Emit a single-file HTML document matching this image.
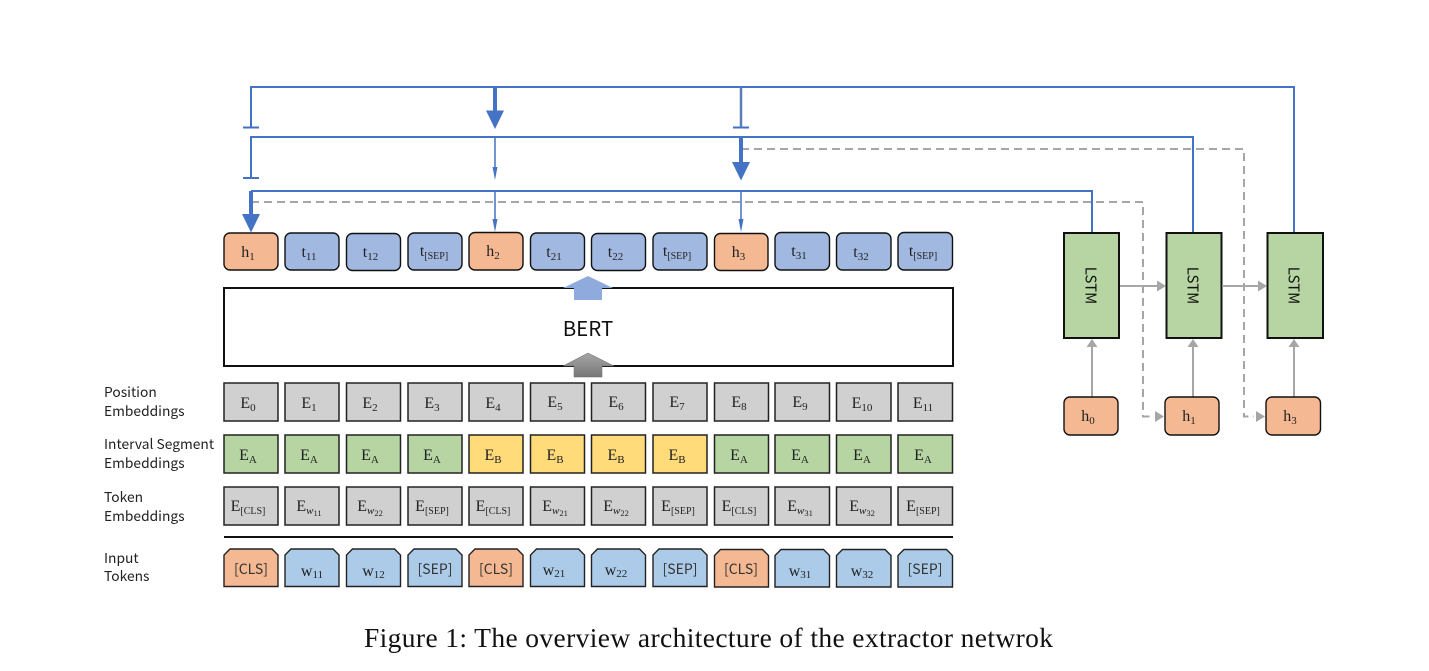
<!DOCTYPE html>
<html><head><meta charset="utf-8"><style>
html,body{margin:0;padding:0;background:#fff}
svg{display:block}
.m{font-family:"Liberation Serif",serif;font-size:16px;fill:#222;text-anchor:middle}
.s{font-size:11px}
.k{font-size:10px}
.l{font-family:"Noto Sans CJK KR","Liberation Sans",sans-serif;font-size:13.8px;fill:#222}
.c{font-family:"Noto Sans CJK KR","Liberation Sans",sans-serif;font-size:14px;fill:#333;text-anchor:middle}
.h rect{fill:#f4b993;stroke:#111;stroke-width:1.4}
.t rect{fill:#a1b8e0;stroke:#111;stroke-width:1.4}
.e rect{fill:#d0d0d0;stroke:#222;stroke-width:1.5}
.g rect{fill:#b7d5a3;stroke:#222;stroke-width:1.5}
.y rect{fill:#ffdb79;stroke:#222;stroke-width:1.5}
.o polygon{fill:#f4b993;stroke:#222;stroke-width:1.4}
.w polygon{fill:#abcbe9;stroke:#222;stroke-width:1.4}
.b{stroke:#4472c4;fill:none;stroke-width:2}
.bf{fill:#4472c4}
.d{stroke:#a6a6a6;fill:none;stroke-width:2;stroke-dasharray:8 5}
.a{stroke:#a6a6a6;fill:none;stroke-width:2}
.af{fill:#a6a6a6}
</style></head><body>
<svg width="1429" height="671" viewBox="0 0 1429 671" xmlns="http://www.w3.org/2000/svg">
<defs>
<linearGradient id="gr" x1="0" y1="0" x2="0" y2="1"><stop offset="0" stop-color="#a6a6a6"/><stop offset="1" stop-color="#777"/></linearGradient>
</defs>

<!-- dashed connectors -->
<path class="d" d="M251 202H1143V416.5H1153"/>
<path class="d" d="M741 149H1244V416.5H1254"/>

<!-- blue connectors -->
<path class="b" d="M251 127V87H1294V233"/>
<path class="b" d="M243 127.5H259M733 127.5H749M243 178H259"/>
<path class="b" style="stroke:#5b7db8;stroke-width:2.500" d="M741 87V127"/>
<path class="b" d="M251 178V137H1193V233"/>
<path class="b" d="M251 191H1092V233"/>
<path class="b" style="stroke-width:4" d="M495 87V112M741 137V164M251 191V216"/>
<polygon class="bf" points="486,110.500 504,110.500 495,129"/>
<polygon class="bf" points="732,162 750,162 741,180.500"/>
<polygon class="bf" points="242,214 260,214 251,232.500"/>
<path class="b" style="stroke-width:1.500" d="M495 137V170M495 191V224M741 191V224"/>
<polygon class="bf" points="492.500,167 497.500,167 495,180"/>
<polygon class="bf" points="492.500,219 497.500,219 495,232"/>
<polygon class="bf" points="738.500,219 743.500,219 741,232"/>

<!-- top tokens -->
<g class="h"><rect x="224" y="233" width="54" height="37" rx="6"/><rect x="469" y="232.500" width="54" height="37.500" rx="6"/><rect x="714.500" y="233.500" width="53.500" height="37" rx="6"/></g>
<g class="t">
<rect x="285" y="233" width="54" height="37" rx="6"/><rect x="346.500" y="233.500" width="54" height="37" rx="6"/><rect x="408" y="233" width="54" height="37" rx="6"/>
<rect x="530.500" y="233" width="54" height="37" rx="6"/><rect x="591.500" y="233.500" width="54" height="37" rx="6"/><rect x="653" y="233" width="54" height="37" rx="6"/>
<rect x="775" y="232.500" width="54.500" height="37.500" rx="6"/><rect x="836.500" y="233" width="54.500" height="37" rx="6"/><rect x="898" y="232.500" width="54.500" height="37.500" rx="6"/>
</g>
<text class="m" x="248" y="257">h<tspan class="s" dy="3">1</tspan></text>
<text class="m" x="309" y="257">t<tspan class="s" dy="3">11</tspan></text>
<text class="m" x="370.500" y="257">t<tspan class="s" dy="3">12</tspan></text>
<text class="m" x="434" y="256">t<tspan class="k" dy="3">[SEP]</tspan></text>
<text class="m" x="493" y="256">h<tspan class="s" dy="3">2</tspan></text>
<text class="m" x="554" y="257">t<tspan class="s" dy="3">21</tspan></text>
<text class="m" x="615.500" y="257">t<tspan class="s" dy="3">22</tspan></text>
<text class="m" x="677" y="256">t<tspan class="k" dy="3">[SEP]</tspan></text>
<text class="m" x="738.500" y="257">h<tspan class="s" dy="3">3</tspan></text>
<text class="m" x="799" y="256">t<tspan class="s" dy="3">31</tspan></text>
<text class="m" x="861" y="257">t<tspan class="s" dy="3">32</tspan></text>
<text class="m" x="923" y="256">t<tspan class="k" dy="3">[SEP]</tspan></text>

<!-- BERT -->
<rect x="224" y="288" width="729" height="78" fill="#fff" stroke="#111" stroke-width="2"/>
<polygon points="588,276 613,288 602,288 602,300 574,300 574,288 563,288" fill="#8faadc"/>
<polygon points="588,353 614,366 602,366 602,377 574,377 574,366 563,366" fill="url(#gr)" stroke="#666" stroke-width=".5"/>
<text x="588" y="336" text-anchor="middle" style="font-family:'Noto Sans CJK KR','Liberation Sans',sans-serif;font-size:20.500px;fill:#111">BERT</text>

<!-- side labels -->
<text class="l" x="104" y="397">Position</text>
<text class="l" x="104" y="416">Embeddings</text>
<text class="l" x="104" y="449">Interval Segment</text>
<text class="l" x="104" y="468">Embeddings</text>
<text class="l" x="104" y="502">Token</text>
<text class="l" x="104" y="521">Embeddings</text>
<text class="l" x="104" y="563">Input</text>
<text class="l" x="104" y="581">Tokens</text>

<!-- position embeddings -->
<g class="e">
<rect x="224" y="383" width="54" height="38"/><rect x="285" y="383" width="54" height="38"/><rect x="346.500" y="383" width="54" height="38"/><rect x="408" y="383" width="54" height="38"/>
<rect x="469" y="383" width="54" height="38"/><rect x="530.500" y="383" width="54" height="38"/><rect x="591.500" y="383" width="54" height="38"/><rect x="653" y="383" width="54" height="38"/>
<rect x="714.500" y="383" width="54" height="38"/><rect x="775" y="383" width="54.500" height="38"/><rect x="836.500" y="383" width="54.500" height="38"/><rect x="898" y="383" width="54.500" height="38"/>
</g>
<text class="m" x="248" y="408">E<tspan class="s" dy="3">0</tspan></text>
<text class="m" x="309" y="408">E<tspan class="s" dy="3">1</tspan></text>
<text class="m" x="370" y="408">E<tspan class="s" dy="3">2</tspan></text>
<text class="m" x="432" y="408">E<tspan class="s" dy="3">3</tspan></text>
<text class="m" x="493" y="408">E<tspan class="s" dy="3">4</tspan></text>
<text class="m" x="555" y="407">E<tspan class="s" dy="3">5</tspan></text>
<text class="m" x="616" y="407">E<tspan class="s" dy="3">6</tspan></text>
<text class="m" x="677" y="407">E<tspan class="s" dy="3">7</tspan></text>
<text class="m" x="739" y="407">E<tspan class="s" dy="3">8</tspan></text>
<text class="m" x="800" y="407">E<tspan class="s" dy="3">9</tspan></text>
<text class="m" x="862" y="408">E<tspan class="s" dy="3">10</tspan></text>
<text class="m" x="923" y="408">E<tspan class="s" dy="3">11</tspan></text>

<!-- segment embeddings -->
<g class="g">
<rect x="224" y="435" width="54" height="38"/><rect x="285" y="435" width="54" height="38"/><rect x="346.500" y="435" width="54" height="38"/><rect x="408" y="435" width="54" height="38"/>
<rect x="714.500" y="435" width="54" height="38"/><rect x="775" y="435" width="54.500" height="38"/><rect x="836.500" y="435" width="54.500" height="38"/><rect x="898" y="435" width="54.500" height="38"/>
</g>
<g class="y">
<rect x="469" y="435" width="54" height="38"/><rect x="530.500" y="435" width="54" height="38"/><rect x="591.500" y="435" width="54" height="38"/><rect x="653" y="435" width="54" height="38"/>
</g>
<text class="m" x="248" y="460">E<tspan class="s" dy="3">A</tspan></text>
<text class="m" x="309" y="460">E<tspan class="s" dy="3">A</tspan></text>
<text class="m" x="370" y="460">E<tspan class="s" dy="3">A</tspan></text>
<text class="m" x="432" y="460">E<tspan class="s" dy="3">A</tspan></text>
<text class="m" x="493" y="460">E<tspan class="s" dy="3">B</tspan></text>
<text class="m" x="555" y="460">E<tspan class="s" dy="3">B</tspan></text>
<text class="m" x="616" y="460">E<tspan class="s" dy="3">B</tspan></text>
<text class="m" x="677" y="460">E<tspan class="s" dy="3">B</tspan></text>
<text class="m" x="739" y="460">E<tspan class="s" dy="3">A</tspan></text>
<text class="m" x="800" y="460">E<tspan class="s" dy="3">A</tspan></text>
<text class="m" x="862" y="460">E<tspan class="s" dy="3">A</tspan></text>
<text class="m" x="923" y="460">E<tspan class="s" dy="3">A</tspan></text>

<!-- token embeddings -->
<g class="e">
<rect x="224" y="487" width="54" height="38"/><rect x="285" y="487" width="54" height="38"/><rect x="346.500" y="487" width="54" height="38"/><rect x="408" y="487" width="54" height="38"/>
<rect x="469" y="487" width="54" height="38"/><rect x="530.500" y="487" width="54" height="38"/><rect x="591.500" y="487" width="54" height="38"/><rect x="653" y="487" width="54" height="38"/>
<rect x="714.500" y="487" width="54" height="38"/><rect x="775" y="487" width="54.500" height="38"/><rect x="836.500" y="487" width="54.500" height="38"/><rect x="898" y="487" width="54.500" height="38"/>
</g>
<text class="m" x="248" y="511">E<tspan class="k" dy="3">[CLS]</tspan></text>
<text class="m" x="309" y="511">E<tspan class="s" dy="3" font-style="italic">w</tspan><tspan font-size="8.500" dy="2">11</tspan></text>
<text class="m" x="370" y="511">E<tspan class="s" dy="3" font-style="italic">w</tspan><tspan font-size="8.500" dy="2">22</tspan></text>
<text class="m" x="432" y="511">E<tspan class="k" dy="3">[SEP]</tspan></text>
<text class="m" x="493" y="511">E<tspan class="k" dy="3">[CLS]</tspan></text>
<text class="m" x="555" y="511">E<tspan class="s" dy="3" font-style="italic">w</tspan><tspan font-size="8.500" dy="2">21</tspan></text>
<text class="m" x="616" y="511">E<tspan class="s" dy="3" font-style="italic">w</tspan><tspan font-size="8.500" dy="2">22</tspan></text>
<text class="m" x="678" y="511">E<tspan class="k" dy="3">[SEP]</tspan></text>
<text class="m" x="739" y="511">E<tspan class="k" dy="3">[CLS]</tspan></text>
<text class="m" x="800" y="511">E<tspan class="s" dy="3" font-style="italic">w</tspan><tspan font-size="8.500" dy="2">31</tspan></text>
<text class="m" x="862" y="511">E<tspan class="s" dy="3" font-style="italic">w</tspan><tspan font-size="8.500" dy="2">32</tspan></text>
<text class="m" x="923" y="511">E<tspan class="k" dy="3">[SEP]</tspan></text>

<path d="M224 537H953" stroke="#111" stroke-width="2"/>

<!-- input tokens -->
<g class="o">
<polygon points="230,549 272,549 278,555 278,586.500 224,586.500 224,555"/>
<polygon points="475,549 517,549 523,555 523,586.500 469,586.500 469,555"/>
<polygon points="720.500,549.500 762.500,549.500 768.500,555.500 768.500,587 714.500,587 714.500,555.500"/>
</g>
<g class="w">
<polygon points="291,549 333,549 339,555 339,586.500 285,586.500 285,555"/>
<polygon points="352.500,549 394.500,549 400.500,555 400.500,586.500 346.500,586.500 346.500,555"/>
<polygon points="414,549 456,549 462,555 462,586.500 408,586.500 408,555"/>
<polygon points="536.500,549 578.500,549 584.500,555 584.500,586.500 530.500,586.500 530.500,555"/>
<polygon points="597.500,549 639.500,549 645.500,555 645.500,586.500 591.500,586.500 591.500,555"/>
<polygon points="659,549 701,549 707,555 707,586.500 653,586.500 653,555"/>
<polygon points="781,549.500 823.500,549.500 829.500,555.500 829.500,587 775,587 775,555.500"/>
<polygon points="842.500,549.500 885,549.500 891,555.500 891,587 836.500,587 836.500,555.500"/>
<polygon points="904,549.500 946.500,549.500 952.500,555.500 952.500,587 898,587 898,555.500"/>
</g>
<text class="c" x="251" y="574">[CLS]</text>
<text class="m" x="312" y="576">w<tspan class="s" dy="2">11</tspan></text>
<text class="m" x="373.500" y="576">w<tspan class="s" dy="2">12</tspan></text>
<text class="c" x="435" y="574">[SEP]</text>
<text class="c" x="496" y="574">[CLS]</text>
<text class="m" x="554" y="575">w<tspan class="s" dy="2">21</tspan></text>
<text class="m" x="616" y="575">w<tspan class="s" dy="2">22</tspan></text>
<text class="c" x="680" y="574">[SEP]</text>
<text class="c" x="741" y="574">[CLS]</text>
<text class="m" x="800" y="576">w<tspan class="s" dy="2">31</tspan></text>
<text class="m" x="862" y="576">w<tspan class="s" dy="2">32</tspan></text>
<text class="c" x="925" y="574">[SEP]</text>

<!-- LSTM -->
<g fill="#b7d5a3" stroke="#111" stroke-width="2">
<rect x="1064" y="233" width="55" height="105"/>
<rect x="1166.500" y="233" width="55" height="105"/>
<rect x="1267.500" y="233" width="55.500" height="105"/>
</g>
<g style="font-family:'Noto Sans CJK KR','Liberation Sans',sans-serif;font-size:15px;fill:#111" text-anchor="middle">
<text transform="translate(1085.500,285.500) rotate(90)">LSTM</text>
<text transform="translate(1187.500,285.500) rotate(90)">LSTM</text>
<text transform="translate(1288.500,285.500) rotate(90)">LSTM</text>
</g>

<!-- gray arrows -->
<path class="a" d="M1120 286H1158M1222 286H1259M1092 397V346M1193 397V346M1294 397V346"/>
<polygon class="af" points="1157,280.500 1166,286 1157,291.500"/>
<polygon class="af" points="1258,280.500 1267,286 1258,291.500"/>
<polygon class="af" points="1086.500,347 1092,339 1097.500,347"/>
<polygon class="af" points="1187.500,347 1193,339 1198.500,347"/>
<polygon class="af" points="1288.500,347 1294,339 1299.500,347"/>
<polygon class="af" points="1155,411 1164,416.500 1155,422"/>
<polygon class="af" points="1256,411 1265,416.500 1256,422"/>

<!-- h inputs -->
<g class="h">
<rect x="1064" y="397" width="54" height="38" rx="6"/>
<rect x="1165" y="397" width="54" height="38" rx="6"/>
<rect x="1266" y="397" width="54.500" height="38" rx="6"/>
</g>
<text class="m" x="1088" y="421">h<tspan class="s" dy="3">0</tspan></text>
<text class="m" x="1189" y="421">h<tspan class="s" dy="3">1</tspan></text>
<text class="m" x="1290" y="421">h<tspan class="s" dy="3">3</tspan></text>

<!-- caption -->
<text x="364" y="647" textLength="689" lengthAdjust="spacing" style="font-family:'Liberation Serif',serif;font-size:27.500px;fill:#111">Figure 1: The overview architecture of the extractor netwrok</text>
</svg>
</body></html>
